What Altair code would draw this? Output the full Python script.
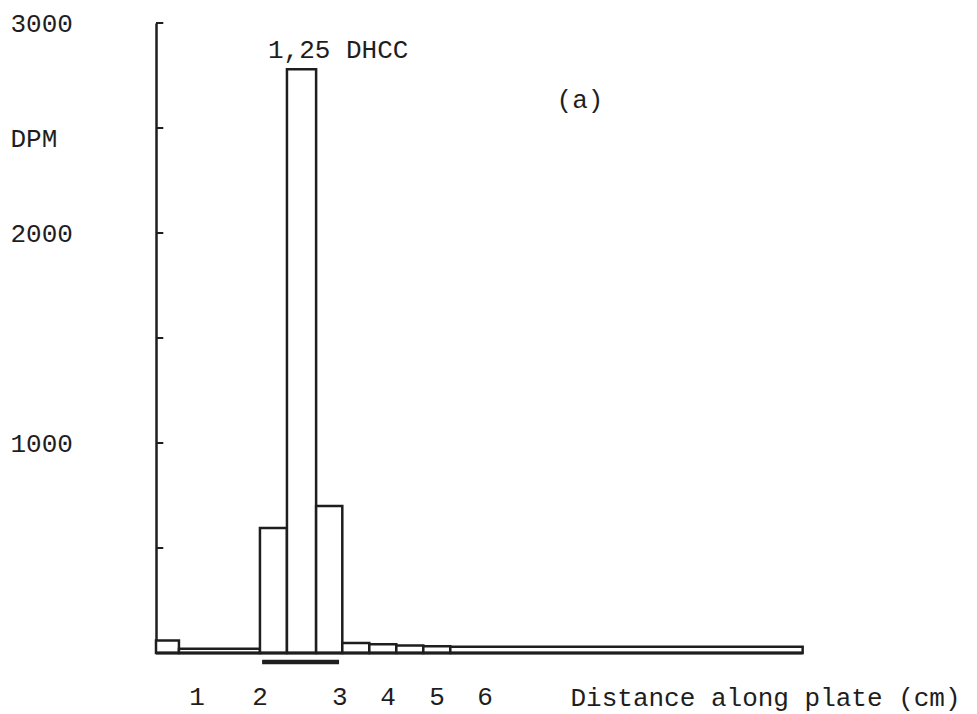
import altair as alt
import pandas as pd

# Histogram segments along the plate (bin units, left edge = origin)
seg_start = [0, 0.85, 3.85, 4.85, 5.93, 6.9, 7.9, 8.9, 9.9, 10.9]
seg_end = [0.85, 3.85, 4.85, 5.93, 6.9, 7.9, 8.9, 9.9, 10.9, 23.95]
dpm = [60, 20, 595, 2780, 700, 48, 42, 36, 32, 30]

# Typed distance labels and where they sit along the plate
dist_labels = ["1", "2", "3", "4", "5", "6"]
dist_pos = [1.52, 3.85, 6.81, 8.59, 10.41, 12.19]

# Tick marks on the DPM axis
tick_values = [500, 1000, 1500, 2000, 2500, 3000]
label_values = [1000, 2000, 3000]

# Marker band under the 1,25 DHCC standard
band_start = [3.93]
band_end = [6.78]

INK = "#1e1e1e"
FONT = "Liberation Mono"
FS = 26

bars_df = pd.DataFrame({"x0": seg_start, "x1": seg_end, "dpm": dpm})
labels_df = pd.DataFrame({"pos": dist_pos, "lab": dist_labels})
ticks_df = pd.DataFrame({"v": tick_values, "x0": [0] * len(tick_values), "x1": [0.27] * len(tick_values)})
band_df = pd.DataFrame({"x0": band_start, "x1": band_end, "y": [-43]})
base_df = pd.DataFrame({"x0": [0], "x1": [seg_end[-1]], "y": [0]})

xs = alt.Scale(domain=[0, 30], nice=False, zero=False)
ys = alt.Scale(domain=[0, 3000], nice=False)

x_axis = alt.Axis(domain=False, ticks=False, labels=False, grid=False,
                  title="Distance along plate (cm)", titleFont=FONT, titleFontSize=FS,
                  titleFontWeight="normal", titleColor=INK, titleAlign="left",
                  titleAnchor="start", titleX=414, titleY=44, titleBaseline="middle")
y_axis = alt.Axis(values=label_values, format="d", ticks=False, grid=False, domain=True,
                  domainWidth=2.5, domainColor=INK, labelAlign="left", labelPadding=146,
                  labelFont=FONT, labelFontSize=FS, labelColor=INK,
                  title="DPM", titleAngle=0, titleX=-146, titleY=115, titleAlign="left",
                  titleBaseline="middle", titleFont=FONT, titleFontSize=FS,
                  titleFontWeight="normal", titleColor=INK)

bars = alt.Chart(bars_df).mark_rect(fill="white", stroke=INK, strokeWidth=2.5).encode(
    x=alt.X("x0:Q", scale=xs, axis=x_axis),
    x2="x1:Q",
    y=alt.Y("dpm:Q", scale=ys, axis=y_axis),
    y2=alt.datum(0),
)

baseline = alt.Chart(base_df).mark_rule(color=INK, strokeWidth=3).encode(
    x="x0:Q", x2="x1:Q", y="y:Q"
)

ticks = alt.Chart(ticks_df).mark_rule(color=INK, strokeWidth=2).encode(
    x="x0:Q", x2="x1:Q", y="v:Q"
)

band = alt.Chart(band_df).mark_rule(color=INK, strokeWidth=4.5).encode(
    x="x0:Q", x2="x1:Q", y="y:Q"
)

dist_text = alt.Chart(labels_df).mark_text(
    font=FONT, fontSize=FS, color=INK, baseline="middle", align="center"
).encode(x="pos:Q", text="lab:N", y=alt.value(674))

peak_label = alt.Chart(pd.DataFrame({"t": ["1,25 DHCC"]})).mark_text(
    font=FONT, fontSize=FS, color=INK, align="left", baseline="middle"
).encode(text="t:N", x=alt.value(112), y=alt.value(27))

panel_label = alt.Chart(pd.DataFrame({"t": ["(a)"]})).mark_text(
    font=FONT, fontSize=FS, color=INK, align="center", baseline="middle"
).encode(text="t:N", x=alt.value(424), y=alt.value(77))

chart = alt.layer(bars, baseline, ticks, band, dist_text, peak_label, panel_label).properties(
    width=810,
    height=630,
    autosize=alt.AutoSizeParams(type="none"),
    padding={"left": 156, "top": 23, "right": 11, "bottom": 61},
    background="white",
).configure_view(stroke=None)

chart.save("out.html", embed_options={"renderer": "svg", "actions": False})
